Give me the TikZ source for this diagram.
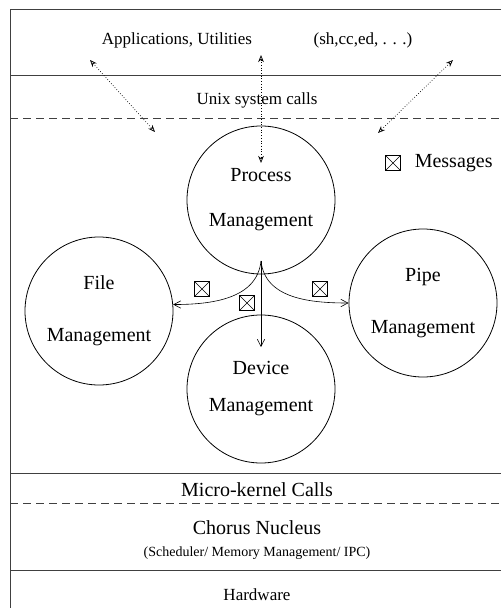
\documentclass[tikz,border=0pt]{standalone}
\usepackage{fontspec}
\setmainfont{Liberation Serif}
\usepackage{tikz}
\usetikzlibrary{arrows.meta,positioning}

\begin{document}
\begin{tikzpicture}[
    x=1pt,y=-1pt,
    line width=0.8pt,
    bigtxt/.style={font=\fontsize{20}{24}\selectfont},
    midtxt/.style={font=\fontsize{17}{20}\selectfont},
    smalltxt/.style={font=\fontsize{14}{17}\selectfont},
    layer/.style={draw=black!75},
    mgr/.style={draw,circle,minimum size=148pt,inner sep=0pt,align=center,bigtxt},
    msg/.style={draw,minimum size=15.5pt,inner sep=0pt,line width=0.6pt,
        path picture={\draw[line width=0.5pt]
            (path picture bounding box.north west) -- (path picture bounding box.south east)
            (path picture bounding box.north east) -- (path picture bounding box.south west);}},
    arrow/.style={-{Straight Barb[length=2.5mm,width=2.6mm]},line width=0.6pt},
    call/.style={{Stealth[open,length=2.5mm,width=2mm]}-{Stealth[open,length=2.5mm,width=2mm]},
        dotted,line width=0.7pt}
]
\useasboundingbox (0,0) rectangle (501,608);

% layers
\draw[layer] (501,9) -- (10,9) -- (10,608);
\draw[layer] (10,75) -- (501,75);
\draw[layer,dash pattern=on 8pt off 5pt] (10,118) -- (501,118);
\draw[layer] (10,473) -- (501,473);
\draw[layer,dash pattern=on 8pt off 5pt] (10,503) -- (501,503);
\draw[layer] (10,570) -- (501,570);

\node[midtxt] (apps) at (177,40) {Applications, Utilities};
\node[midtxt] (shcc) at (363,40) {(sh,cc,ed, . . .)};
\node[midtxt] (unix) at (257,100) {Unix system calls};
\node[bigtxt] (mkcalls) at (257,490) {Micro-kernel Calls};
\node[bigtxt] (chorus) at (257,528) {Chorus Nucleus};
\node[smalltxt] (sched) at (257,553) {(Scheduler/ Memory Management/ IPC)};
\node[midtxt] (hw) at (257,595) {Hardware};

% servers
\node[mgr] (proc) at (261,200) {Process\\[21pt]Management};
\node[mgr] (file) at (99,311) {File\\[28pt]Management};
\node[mgr] (pipe) at (423,303) {Pipe\\[28pt]Management};
\node[mgr] (dev) at (261,389) {Device\\[13pt]Management};

% legend
\node[msg] (key) at (393,163) {};
\node[bigtxt,right=10pt of key] (keytxt) {Messages};

% system calls
\coordinate (callL1) at (90,60);
\coordinate (callL2) at (155,132);
\coordinate (callM1) at (261,55);
\coordinate (callM2) at (261,163);
\coordinate (callR1) at (453,60);
\coordinate (callR2) at (378,133);
\draw[call] (callL1) -- (callL2);
\draw[call] (callM1) -- (callM2);
\draw[call] (callR1) -- (callR2);

% messages between servers
\coordinate (apex) at (261,261);
\draw[arrow] (apex) to[out=-96,in=0] (file.5);
\draw[arrow] (apex) to[out=-84,in=180] (pipe.west);
\draw[arrow] (apex) -- (261,347);
\node[msg] (msgfile) at (202,289) {};
\node[msg] (msgpipe) at (320,289) {};
\node[msg] (msgdev) at (247,303) {};
\end{tikzpicture}
\end{document}
